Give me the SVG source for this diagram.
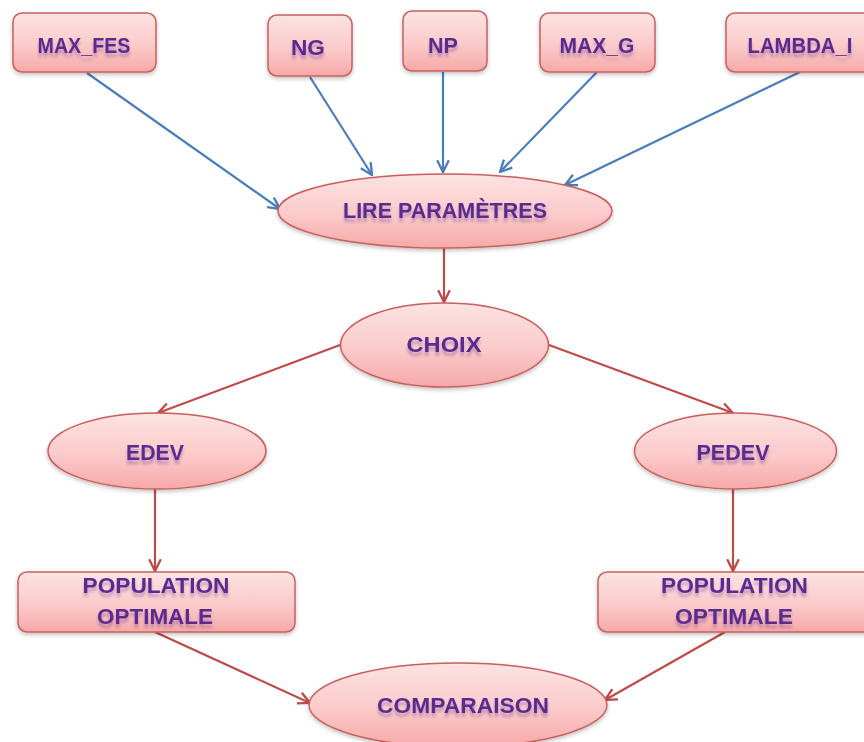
<svg xmlns="http://www.w3.org/2000/svg" width="864" height="742" viewBox="0 0 864 742">
  <defs>
    <linearGradient id="pinkFill" x1="0" y1="0" x2="0" y2="1">
      <stop offset="0" stop-color="#fde3e3"/>
      <stop offset="0.55" stop-color="#fbcaca"/>
      <stop offset="1" stop-color="#f6a9a8"/>
    </linearGradient>
    <filter id="shapeShadow" x="-10%" y="-10%" width="120%" height="140%">
      <feGaussianBlur in="SourceAlpha" stdDeviation="2"/>
      <feOffset dx="0" dy="2" result="blur"/>
      <feComponentTransfer><feFuncA type="linear" slope="0.25"/></feComponentTransfer>
      <feMerge><feMergeNode/><feMergeNode in="SourceGraphic"/></feMerge>
    </filter>
    <filter id="textGlow" x="-10%" y="-30%" width="120%" height="180%">
      <feGaussianBlur in="SourceGraphic" stdDeviation="1.6"/>
      <feOffset dx="0" dy="4" result="refl"/>
      <feComponentTransfer in="refl" result="refl2"><feFuncA type="linear" slope="0.35"/></feComponentTransfer>
      <feMerge><feMergeNode in="refl2"/><feMergeNode in="SourceGraphic"/></feMerge>
    </filter>
    <marker id="arrowBlue" viewBox="0 0 12 12" refX="11" refY="6" markerWidth="14" markerHeight="14" markerUnits="userSpaceOnUse" orient="auto">
      <path d="M1,1 L11,6 L1,11" fill="none" stroke="#4a7ebb" stroke-width="2" stroke-linejoin="miter"/>
    </marker>
    <marker id="arrowRed" viewBox="0 0 12 12" refX="11" refY="6" markerWidth="14" markerHeight="14" markerUnits="userSpaceOnUse" orient="auto">
      <path d="M1,1 L11,6 L1,11" fill="none" stroke="#be4b48" stroke-width="2" stroke-linejoin="miter"/>
    </marker>
  </defs>
  <style>
    .node { fill: url(#pinkFill); stroke: #c9605d; stroke-width: 1.5; filter: url(#shapeShadow); }
    .label { font-family: "Liberation Sans", "DejaVu Sans", sans-serif; font-weight: bold; font-size: 21.5px; fill: #5a2b8f; text-anchor: middle; filter: url(#textGlow); }
    .blue { stroke: #4a7ebb; stroke-width: 2.2; fill: none; marker-end: url(#arrowBlue); }
    .red { stroke: #be4b48; stroke-width: 2.2; fill: none; marker-end: url(#arrowRed); }
  </style>
  <rect width="864" height="742" fill="#ffffff"/>

  <g id="connectors">
    <line class="blue" x1="87" y1="73" x2="280" y2="209"/>
    <line class="blue" x1="310" y1="77" x2="372" y2="175"/>
    <line class="blue" x1="443" y1="72" x2="443" y2="172"/>
    <line class="blue" x1="597" y1="72" x2="500" y2="172"/>
    <line class="blue" x1="800" y1="72" x2="565" y2="185"/>
    <line class="red" x1="444" y1="248" x2="444" y2="302"/>
    <line class="red" x1="340" y1="345" x2="158" y2="413"/>
    <line class="red" x1="549" y1="345" x2="733" y2="413"/>
    <line class="red" x1="155" y1="489" x2="155" y2="571"/>
    <line class="red" x1="733" y1="489" x2="733" y2="571"/>
    <line class="red" x1="155" y1="632" x2="310" y2="703"/>
    <line class="red" x1="725" y1="632" x2="605" y2="700"/>
  </g>

  <g id="max_fes">
    <rect class="node" x="13" y="13" width="143" height="59" rx="9"/>
    <text class="label" x="84" y="53" textLength="93" lengthAdjust="spacingAndGlyphs">MAX_FES</text>
  </g>
  <g id="ng">
    <rect class="node" x="268" y="15" width="84" height="61" rx="9"/>
    <text class="label" x="308" y="55" textLength="34" lengthAdjust="spacingAndGlyphs">NG</text>
  </g>
  <g id="np">
    <rect class="node" x="403" y="11" width="84" height="60" rx="9"/>
    <text class="label" x="443" y="53" textLength="30" lengthAdjust="spacingAndGlyphs">NP</text>
  </g>
  <g id="max_g">
    <rect class="node" x="540" y="13" width="115" height="59" rx="9"/>
    <text class="label" x="597" y="53" textLength="75" lengthAdjust="spacingAndGlyphs">MAX_G</text>
  </g>
  <g id="lambda_i">
    <rect class="node" x="726" y="13" width="150" height="59" rx="9"/>
    <text class="label" x="800" y="53" textLength="105" lengthAdjust="spacingAndGlyphs">LAMBDA_I</text>
  </g>

  <g id="lire_parametres">
    <ellipse class="node" cx="445" cy="211" rx="167" ry="37"/>
    <text class="label" x="445" y="218" textLength="204" lengthAdjust="spacingAndGlyphs">LIRE PARAMÈTRES</text>
  </g>
  <g id="choix">
    <ellipse class="node" cx="444.5" cy="345" rx="104" ry="42"/>
    <text class="label" x="444" y="352" textLength="75" lengthAdjust="spacingAndGlyphs">CHOIX</text>
  </g>
  <g id="edev">
    <ellipse class="node" cx="157" cy="451" rx="109" ry="38"/>
    <text class="label" x="155" y="460" textLength="58" lengthAdjust="spacingAndGlyphs">EDEV</text>
  </g>
  <g id="pedev">
    <ellipse class="node" cx="735.5" cy="451" rx="101" ry="38"/>
    <text class="label" x="733" y="460" textLength="73" lengthAdjust="spacingAndGlyphs">PEDEV</text>
  </g>
  <g id="population_optimale_edev">
    <rect class="node" x="18" y="572" width="277" height="60" rx="9"/>
    <text class="label" x="156" y="593" textLength="147" lengthAdjust="spacingAndGlyphs">POPULATION</text>
    <text class="label" x="155" y="624" textLength="116" lengthAdjust="spacingAndGlyphs">OPTIMALE</text>
  </g>
  <g id="population_optimale_pedev">
    <rect class="node" x="598" y="572" width="280" height="60" rx="9"/>
    <text class="label" x="734.5" y="593" textLength="147" lengthAdjust="spacingAndGlyphs">POPULATION</text>
    <text class="label" x="734" y="624" textLength="118" lengthAdjust="spacingAndGlyphs">OPTIMALE</text>
  </g>
  <g id="comparaison">
    <ellipse class="node" cx="458" cy="705" rx="149" ry="42"/>
    <text class="label" x="463" y="713" textLength="172" lengthAdjust="spacingAndGlyphs">COMPARAISON</text>
  </g>
</svg>
